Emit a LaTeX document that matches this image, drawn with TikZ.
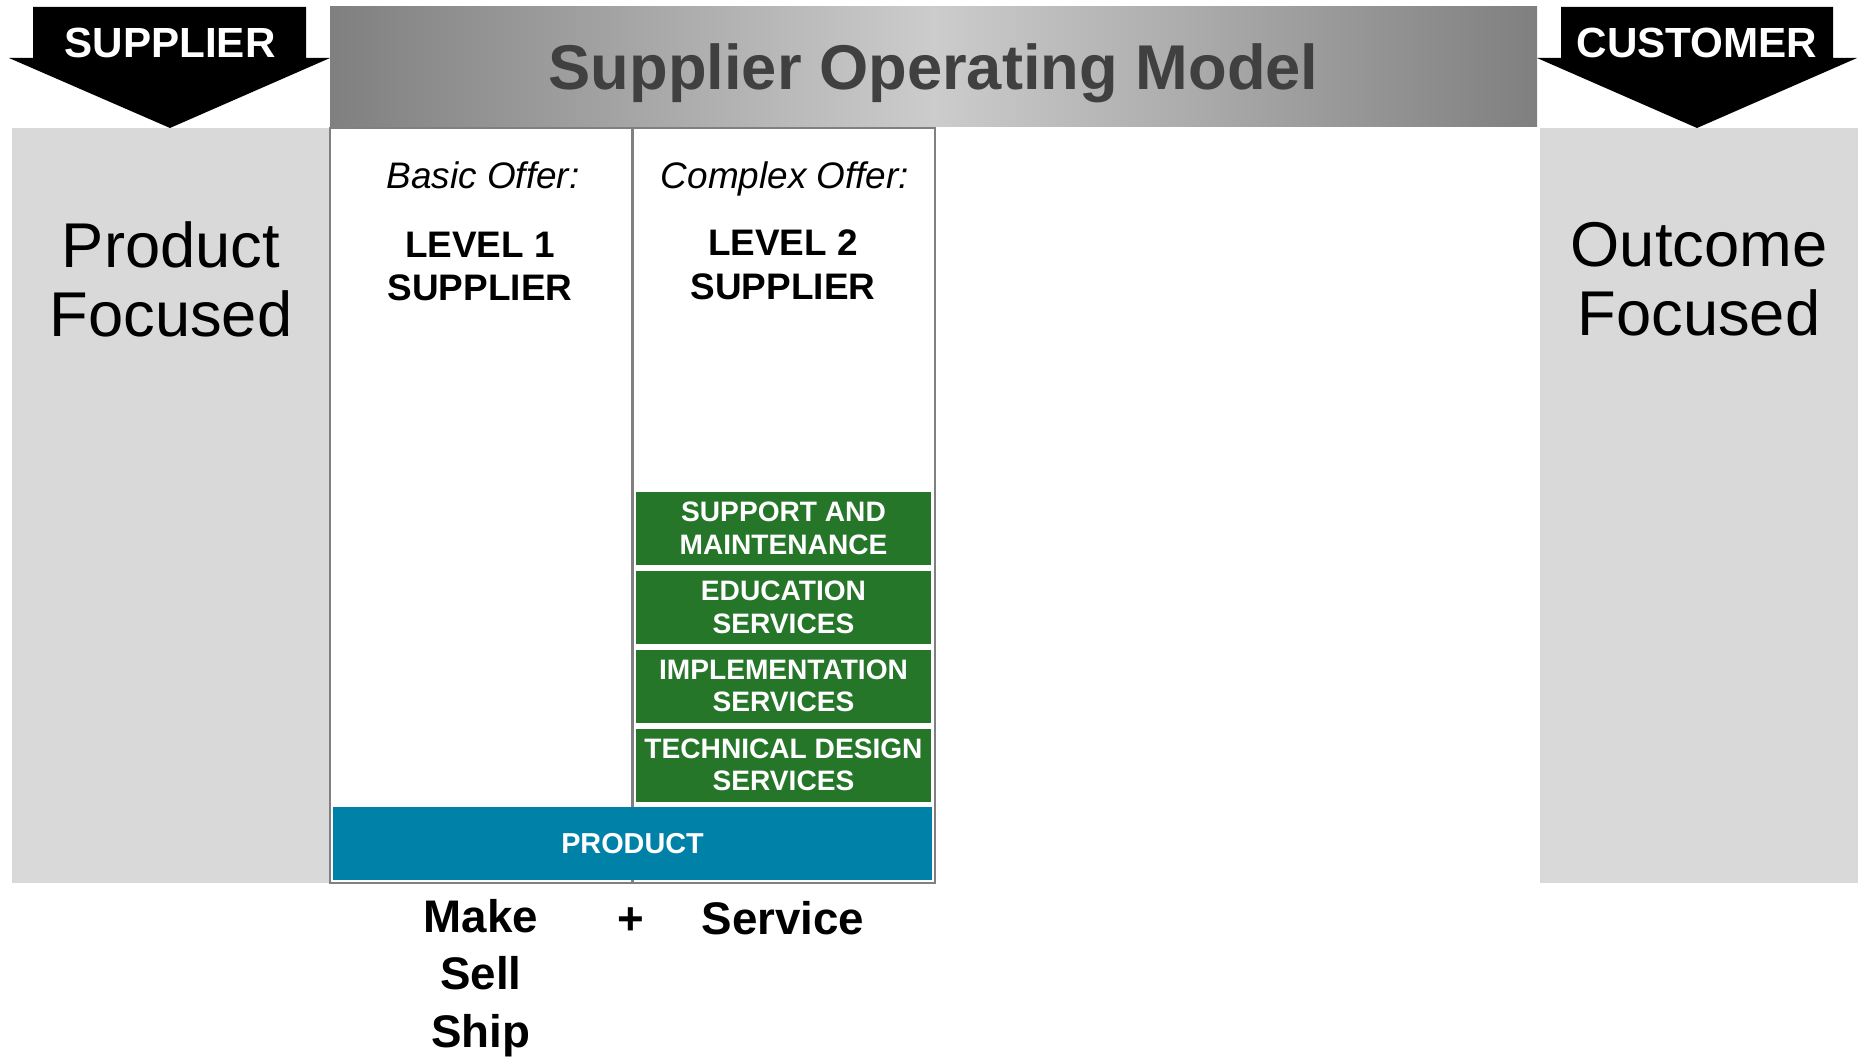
\documentclass[tikz,border=0pt]{standalone}
\usepackage{fontspec}
\setmainfont{Liberation Sans}
\usetikzlibrary{calc,positioning}
\definecolor{svgreen}{RGB}{38,118,42}
\definecolor{prodblue}{RGB}{0,129,167}
\definecolor{panelgray}{RGB}{217,217,217}
\begin{document}
\begin{tikzpicture}[
	panel/.style={fill=panelgray,minimum width=3.18cm,minimum height=7.55cm,inner sep=0},
	bigtxt/.style={align=center,font=\fontsize{18}{19.6}\selectfont},
	arrowtxt/.style={text=white,font=\fontsize{12}{14}\selectfont\bfseries},
	offer/.style={anchor=base,font=\fontsize{10.5}{12.5}\selectfont\itshape},
	level/.style={align=center,font=\fontsize{10.5}{12.5}\selectfont\bfseries},
	svc/.style={fill=svgreen,text=white,align=center,minimum width=2.95cm,minimum height=0.73cm,inner sep=0,font=\fontsize{8}{9.2}\selectfont\bfseries},
	msh/.style={align=center,font=\fontsize{13}{16.4}\selectfont\bfseries}]
	\useasboundingbox (0,0) rectangle (18.6,-10.57);
	\node[minimum width=12.07cm,minimum height=1.2cm,inner sep=0,left color=gray,right color=gray,middle color=gray!40] (header) at (9.335,-0.67) {};
	\node[anchor=base,text=black!75,font=\fontsize{18}{20}\selectfont\bfseries] (title) at (9.335,-0.90) {Supplier Operating Model};
	\node[panel] (prodf) at (1.71,-5.055) {};
	\node[panel] (outf) at (16.99,-5.055) {};
	\fill (0.33,-0.07) -- (3.06,-0.07) -- (3.06,-0.58) -- (3.30,-0.58) -- (1.70,-1.28) -- (0.09,-0.58) -- (0.33,-0.58) -- cycle;
	\fill (15.61,-0.07) -- (18.33,-0.07) -- (18.33,-0.58) -- (18.57,-0.58) -- (16.97,-1.28) -- (15.37,-0.58) -- (15.61,-0.58) -- cycle;
	\node[arrowtxt] (suplab) at (1.70,-0.43) {SUPPLIER};
	\node[arrowtxt] (custlab) at (16.97,-0.43) {CUSTOMER};
	\node[bigtxt] (prodtxt) at (1.71,-2.79) {Product\\Focused};
	\node[bigtxt] (outtxt) at (16.99,-2.79) {Outcome\\Focused};
	\node[draw=gray,line width=0.6pt,minimum width=6.05cm,minimum height=7.55cm,inner sep=0] (offerbox) at (6.325,-5.055) {};
	\draw[gray,line width=0.6pt] (offerbox.north) -- (offerbox.south);
	\node[offer] (basic) at (4.83,-1.89) {Basic Offer:};
	\node[level] (lvl1) at (4.80,-2.665) {LEVEL 1\\SUPPLIER};
	\node[offer] (complex) at (7.85,-1.89) {Complex Offer:};
	\node[level] (lvl2) at (7.83,-2.645) {LEVEL 2\\SUPPLIER};
	\node[svc] (tech) at (7.835,-7.65) {TECHNICAL DESIGN\\SERVICES};
	\node[svc,above=0.045cm of tech] (impl) {IMPLEMENTATION\\SERVICES};
	\node[svc,above=0.045cm of impl] (edu) {EDUCATION\\SERVICES};
	\node[svc,above=0.045cm of edu] (supp) {SUPPORT AND\\MAINTENANCE};
	\node[fill=prodblue,text=white,minimum width=5.99cm,minimum height=0.73cm,inner sep=0,font=\fontsize{8.2}{10}\selectfont\bfseries] (prod) at (6.325,-8.435) {PRODUCT};
	\node[msh] (make) at (4.81,-9.78) {Make\\Sell\\Ship};
	\node[msh,anchor=base] (plus) at (6.31,-9.34) {+};
	\node[msh,anchor=base] (serv) at (7.83,-9.34) {Service};
\end{tikzpicture}
\end{document}
